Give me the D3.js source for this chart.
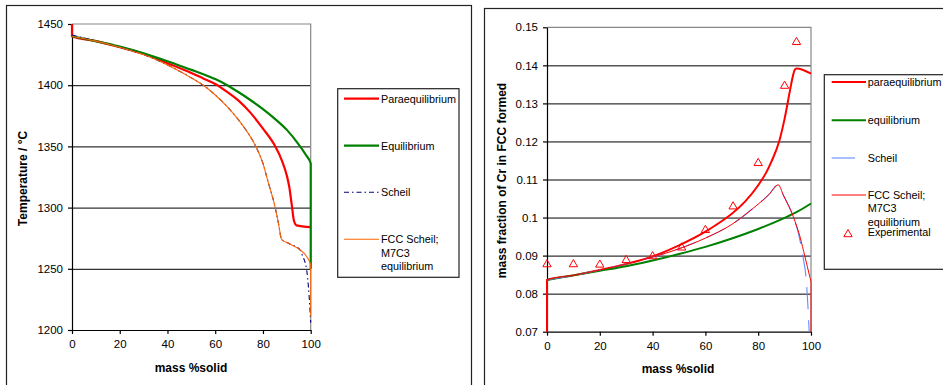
<!DOCTYPE html>
<html><head><meta charset="utf-8">
<script src="https://cdn.jsdelivr.net/npm/d3@7"></script>
<style>
body{margin:0;background:#fff}
svg{display:block;font-family:"Liberation Sans",Arial,sans-serif}
</style>
</head><body>
<svg id="c" width="943" height="385"></svg>
<script>
// ---------- data ----------
const xTicks = [0, 20, 40, 60, 80, 100];
const tempTicks = [1200, 1250, 1300, 1350, 1400, 1450];
const crTicks = [0.07, 0.08, 0.09, 0.10, 0.11, 0.12, 0.13, 0.14, 0.15];

// Left chart: temperature vs mass % solid
const paraTemp = [[0,1450],[0,1440],[10,1436],[20,1431],[30,1425.5],[40,1418],[50,1410],[55,1405.5],[60,1401],[65,1394.5],[70,1387],[75,1377],[80,1364.5],[85,1350.5],[88,1338],[90,1326],[91,1317],[92,1303],[93,1289],[94,1285.5],[100,1284]];
const eqTemp = [[0,1440],[10,1436],[20,1431.5],[30,1426],[40,1419.5],[50,1412.5],[55,1409],[60,1405],[65,1400],[70,1394],[75,1387.5],[80,1380.5],[85,1372.5],[90,1363.5],[95,1351.5],[98,1343],[100,1336],[100,1250]];
const scheilTemp = [[0,1441],[10,1436],[20,1431],[30,1425],[40,1416.5],[50,1406],[55,1400],[60,1392],[65,1382.5],[70,1371],[73,1363],[77,1350],[80,1336],[82,1322],[85,1301],[86.5,1287],[87.8,1274],[91,1270.5],[95.5,1265.5],[96.5,1261],[98.3,1249],[99,1236],[99.7,1216],[100,1206]];
const fccTemp = [[0,1440],[10,1436],[20,1431],[30,1425],[40,1416.5],[50,1406],[55,1400],[60,1392],[65,1382.5],[70,1371],[73,1363],[77,1350],[80,1336],[82,1322],[85,1301],[86.5,1287],[87.8,1274],[91,1270.5],[95.5,1265.5],[98.3,1260],[100,1253],[100,1211]];

// Right chart: mass fraction of Cr in FCC formed
const paraCr = [[0,0.07],[0,0.0836],[10,0.0848],[20,0.0862],[30,0.0878],[40,0.0898],[50,0.0927],[60,0.0963],[65,0.0985],[70,0.1010],[75,0.1042],[80,0.1085],[83,0.1118],[85,0.1147],[88,0.1202],[90,0.1260],[92,0.1333],[93,0.1368],[93.8,0.1388],[94.5,0.1392],[100,0.1378]];
const eqCr = [[0,0.0836],[10,0.0848],[20,0.0860],[30,0.0872],[40,0.0887],[50,0.0904],[60,0.0923],[70,0.0945],[80,0.0970],[90,0.0999],[95,0.1016],[100,0.1037]];
const scheilCr = [[0,0.0836],[10,0.0848],[20,0.0862],[30,0.0878],[40,0.0896],[50,0.0918],[60,0.0946],[70,0.0982],[78,0.1024],[84,0.1060],[87.6,0.1086],[89.5,0.1059],[93.3,0.1002],[95.5,0.0950],[97,0.0895],[98.2,0.0835],[98.8,0.0770],[99.3,0.07]];
const fccCr = [[0,0.07],[0,0.0836],[10,0.0848],[20,0.0862],[30,0.0878],[40,0.0896],[50,0.0918],[60,0.0946],[70,0.0982],[78,0.1024],[84,0.1060],[87.6,0.1086],[89.5,0.1059],[93.3,0.1002],[95.8,0.0950],[97.7,0.0897],[99.5,0.0845],[100,0.0830],[100,0.07]];
const expCr = [[0,0.0877],[10,0.0877],[20,0.0876],[30,0.0888],[40,0.0898],[51,0.0921],[60,0.0967],[70.5,0.1029],[80,0.1143],[90,0.1346],[94.5,0.1461]];

const leftLegend = [["Paraequilibrium"],["Equilibrium"],["Scheil"],["FCC Scheil;","M7C3","equilibrium"]];
const rightLegend = [["paraequilibrium"],["equilibrium"],["Scheil"],["FCC Scheil;","M7C3","equilibrium"],["Experimental"]];

// ---------- drawing ----------
const svg = d3.select("#c");
const TF = 11.5, LF = 10.8, AF = 12;

// outer frames
svg.append("rect").attr("x",6.5).attr("y",5.5).attr("width",465).attr("height",420)
  .attr("fill","none").attr("stroke","#222").attr("stroke-width",1.2);
svg.append("rect").attr("x",484.5).attr("y",8.5).attr("width",520).attr("height",420)
  .attr("fill","none").attr("stroke","#222").attr("stroke-width",1.2);

function panel(cfg){
  const x = d3.scaleLinear().domain([0,100]).range(cfg.xr);
  const y = d3.scaleLinear().domain(cfg.yd).range(cfg.yr);
  const g = svg.append("g");
  const w = cfg.xr[1]-cfg.xr[0];
  // gridlines
  g.append("g").attr("transform",`translate(${cfg.xr[0]},0)`)
    .call(d3.axisLeft(y).tickValues(cfg.yTicks.slice(1,-1)).tickSize(-w).tickFormat(""))
    .call(s=>s.select(".domain").remove())
    .call(s=>s.selectAll("line").attr("stroke","#000").attr("stroke-width",1));
  // plot border top/right (gray)
  g.append("path").attr("d",`M${cfg.xr[0]},${y(cfg.yd[1])}H${cfg.xr[1]}V${y(cfg.yd[0])}`)
    .attr("fill","none").attr("stroke","#888").attr("stroke-width",1.2);
  // axes
  const ya = g.append("g").attr("transform",`translate(${cfg.xr[0]},0)`)
    .call(d3.axisLeft(y).tickValues(cfg.yTicks).tickSize(4).tickSizeOuter(0).tickPadding(5).tickFormat(cfg.yFmt));
  const xa = g.append("g").attr("transform",`translate(0,${y(cfg.yd[0])})`)
    .call(d3.axisBottom(x).tickValues(xTicks).tickSize(4).tickSizeOuter(0).tickPadding(6));
  [ya,xa].forEach(a=>{
    a.selectAll("text").attr("font-size",TF).attr("fill","#000").attr("font-family","Liberation Sans, Arial, sans-serif");
    a.selectAll("line,path").attr("stroke","#000").attr("stroke-width",1.2);
  });
  // series (smooth, monotone in x; tiny index offset keeps vertical steps valid)
  const line = d3.line().x((d,i)=>x(d[0])+i*0.002).y(d=>y(d[1])).curve(d3.curveMonotoneX);
  cfg.series.forEach(s=>{
    g.append("path").datum(s.data).attr("d",line).attr("fill","none")
      .attr("stroke",s.color).attr("stroke-width",s.w)
      .attr("stroke-dasharray",s.dash||null).attr("stroke-linejoin","round");
  });
  if(cfg.markers){
    g.selectAll(".m").data(cfg.markers).join("path")
      .attr("transform",d=>`translate(${x(d[0])},${y(d[1])})`)
      .attr("d",d3.symbol(d3.symbolTriangle,30)())
      .attr("fill","none").attr("stroke","#f00").attr("stroke-width",1);
  }
  // axis titles
  g.append("text").attr("x",cfg.xTitle[0]).attr("y",cfg.xTitle[1]).attr("text-anchor","middle")
    .attr("font-size",AF).attr("font-weight","bold").text("mass %solid");
  g.append("text").attr("transform",`translate(${cfg.yTitle[0]},${cfg.yTitle[1]}) rotate(-90)`)
    .attr("text-anchor","middle").attr("font-size",AF).attr("font-weight","bold").text(cfg.yLabel);
  return {x,y};
}

panel({
  xr:[72,310.7], yd:[1200,1450], yr:[330,24], yTicks:tempTicks, yFmt:d3.format("d"),
  xTitle:[191,372], yTitle:[27,178.5], yLabel:"Temperature / °C",
  series:[
    {data:paraTemp,color:"#ff0000",w:2.2},
    {data:eqTemp,color:"#008000",w:2.2},
    {data:scheilTemp,color:"#000080",w:1.1,dash:"5,3,1.5,3"},
    {data:fccTemp,color:"#ff6600",w:1.1}
  ]
});
panel({
  xr:[547,811], yd:[0.07,0.15], yr:[331.7,27.3], yTicks:crTicks, yFmt:d=>String(+d.toFixed(2)),
  xTitle:[678,373], yTitle:[506,180.5], yLabel:"mass fraction of Cr in FCC formed",
  series:[
    {data:paraCr,color:"#ff0000",w:2},
    {data:eqCr,color:"#008000",w:2},
    {data:scheilCr,color:"#5f8cff",w:1.1,dash:"22,11"},
    {data:fccCr,color:"#ff0000",w:1}
  ],
  markers:expCr
});

// ---------- legends ----------
function legend(cfg){
  const g = svg.append("g");
  g.append("rect").attr("x",cfg.box[0]).attr("y",cfg.box[1]).attr("width",cfg.box[2]).attr("height",cfg.box[3])
    .attr("fill","#fff").attr("stroke","#222").attr("stroke-width",1.2);
  cfg.items.forEach((it,i)=>{
    const yy = cfg.rows[i];
    const st = cfg.styles[i];
    if(st.marker){
      g.append("path").attr("transform",`translate(${st.mx},${yy+2})`)
        .attr("d",d3.symbol(d3.symbolTriangle,30)()).attr("fill","none").attr("stroke","#f00");
    } else {
      g.append("line").attr("x1",cfg.lx[0]).attr("x2",st.x2||cfg.lx[1]).attr("y1",yy).attr("y2",yy)
        .attr("stroke",st.color).attr("stroke-width",st.w).attr("stroke-dasharray",st.dash||null);
    }
    const t = g.append("text").attr("x",cfg.tx).attr("y",yy+4).attr("font-size",LF);
    it.forEach((s,k)=>t.append("tspan").attr("x",cfg.tx).attr("dy",k?13.3:0).text(s));
  });
}
legend({
  box:[337.7,88.7,121.3,188.6], lx:[344,379], tx:381, rows:[98.7,145.7,192.3,239.3],
  items:leftLegend,
  styles:[{color:"#ff0000",w:2.2},{color:"#008000",w:2.2},{color:"#000080",w:1.1,dash:"5,3,1.5,3"},{color:"#ff6600",w:1.1}]
});
legend({
  box:[824.3,74.7,140,194.6], lx:[831.7,866], tx:867.7, rows:[82,120.3,158,195,232.3],
  items:rightLegend,
  styles:[{color:"#ff0000",w:2},{color:"#008000",w:2},{color:"#5f8cff",w:1.1,x2:855},{color:"#ff0000",w:1},{marker:true,mx:848}]
});
</script>
</body></html>
